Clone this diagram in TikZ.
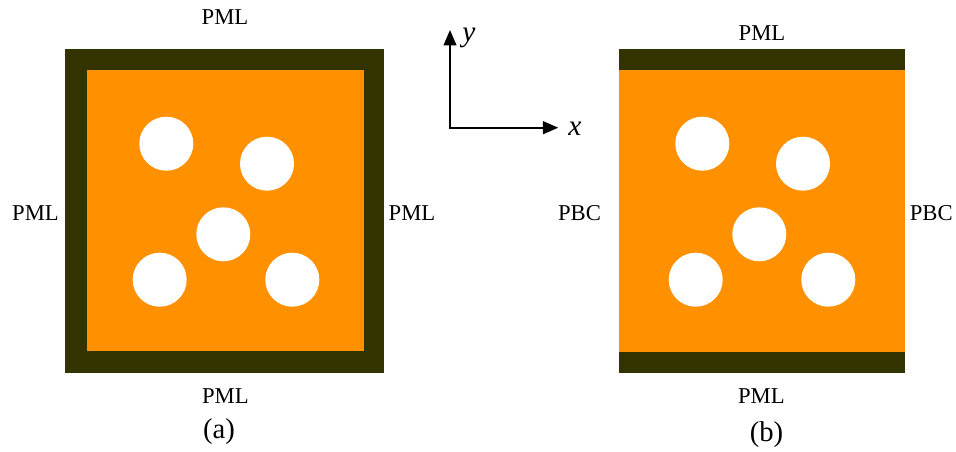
\documentclass[tikz,border=0pt]{standalone}
\usepackage{fontspec}
\setmainfont{Liberation Serif}
\usetikzlibrary{arrows.meta}

\definecolor{pmldark}{HTML}{333300}
\definecolor{coreorange}{HTML}{FF9100}

\begin{document}
\begin{tikzpicture}
  [
    x                  = 0.75pt,
    y                  = -0.75pt,
    every node/.style  = {font=\fontsize{17}{20}\selectfont, inner sep=0pt},
    caption/.style     = {font=\fontsize{21.5}{24}\selectfont},
    axisname/.style    = {font=\fontsize{22}{24}\selectfont\itshape},
    pml/.style         = {fill=pmldark},
    medium/.style      = {fill=coreorange},
    hole/.style        = {fill=white},
    axis/.style        = {line width=1.5pt, line join=miter,
                          {Triangle[length=11.5pt,width=9.5pt]}-{Triangle[length=11.5pt,width=9.5pt]}}
  ]
  \useasboundingbox (0,0) rectangle (956,452);

  % (a): absorbing layer on all four sides
  \fill[pml]    (65,49)    rectangle (384,372.5);
  \fill[medium] (87,70)    rectangle (364,351);

  % (b): absorbing layer on top and bottom only
  \fill[pml]    (618.7,49) rectangle (904.5,372.5);
  \fill[medium] (618.7,70) rectangle (905,351.5);

  % scatterers, same layout in both cells
  \foreach \dx in {0,536}
    \foreach \cx/\cy in {166.3/143.7, 267/163.7, 223.3/234.3, 159.7/279.7, 292.3/279.7}
      \fill[hole] (\cx+\dx,\cy) circle[radius=20.25pt];

  % boundary names
  \node (pmlAtop)    at (225,17)    {PML};
  \node (pmlAleft)   at (35.5,213)  {PML};
  \node (pmlAright)  at (412,213)   {PML};
  \node (pmlAbottom) at (225.3,396) {PML};
  \node (pmlBtop)    at (762,33)    {PML};
  \node (pbcBleft)   at (579.5,213) {PBC};
  \node (pbcBright)  at (931.3,213) {PBC};
  \node (pmlBbottom) at (761.3,396) {PML};

  \node[caption] (capA) at (219,432)   {(a)};
  \node[caption] (capB) at (766.5,434.5) {(b)};

  % axes
  \coordinate (origin) at (450,127.7);
  \coordinate (ytip)   at (450,30);
  \coordinate (xtip)   at (558.3,127.7);
  \draw[axis] (ytip) -- (origin) -- (xtip);
  \node[axisname] (ylab) at (469,38)    {y};
  \node[axisname] (xlab) at (575,128.3) {x};
\end{tikzpicture}
\end{document}
